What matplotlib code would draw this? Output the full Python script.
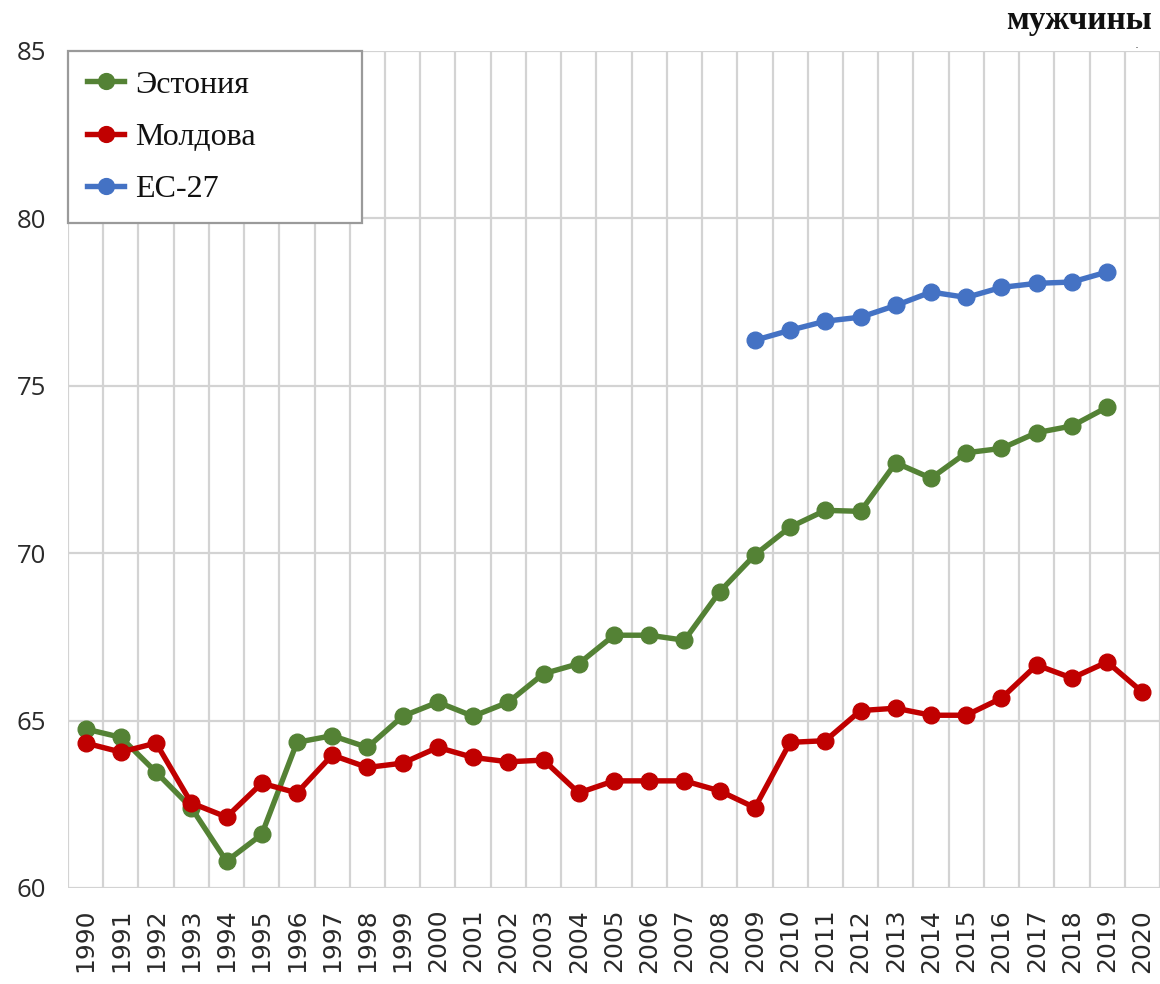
import matplotlib
matplotlib.use("Agg")
import matplotlib.pyplot as plt
import numpy as np

years = [str(y) for y in range(1990, 2021)]

estonia = [64.75, 64.5, 63.46, 62.4, 60.8, 61.6, 64.35, 64.55, 64.2, 65.13,
           65.55, 65.13, 65.55, 66.4, 66.7, 67.55, 67.55, 67.4, 68.85, 69.95,
           70.78, 71.28, 71.25, 72.7, 72.24, 73.0, 73.13, 73.6, 73.8, 74.36]
moldova = [64.33, 64.06, 64.33, 62.54, 62.12, 63.13, 62.84, 63.97, 63.6, 63.73,
           64.2, 63.9, 63.77, 63.82, 62.84, 63.2, 63.2, 63.2, 62.9, 62.4,
           64.35, 64.4, 65.3, 65.37, 65.16, 65.16, 65.67, 66.66, 66.27, 66.75,
           65.85]
eu27_start = 2009
eu27 = [76.36, 76.66, 76.93, 77.05, 77.4, 77.8, 77.64, 77.94, 78.06, 78.1, 78.4]

labels = ["Эстония", "Молдова", "ЕС-27"]
colors = ["#548235", "#c00000", "#4472c4"]
title = "мужчины"
yticks = [60, 65, 70, 75, 80, 85]

fig = plt.figure(figsize=(11.6, 9.84), dpi=100)
ax = fig.add_axes([68/1160, 1-888/984, 1-68/1160, (888-51)/984])

x_all = np.arange(len(years))
x_est = x_all[:len(estonia)]
i0 = years.index(str(eu27_start))
x_eu = x_all[i0:i0 + len(eu27)]

lw = 3.9
ms = 12
ax.plot(x_est, estonia, color=colors[0], lw=lw, marker="o", ms=ms, label=labels[0], zorder=3)
ax.plot(x_all, moldova, color=colors[1], lw=lw, marker="o", ms=ms, label=labels[1], zorder=3)
ax.plot(x_eu, eu27, color=colors[2], lw=lw, marker="o", ms=ms, label=labels[2], zorder=3)

ax.set_xlim(-0.5, 30.34)
ax.set_ylim(60, 85)
ax.set_yticks(yticks)
ax.set_xticks(x_all)
ax.set_xticklabels(years, rotation=90, fontsize=18, color="#2a2a2a", family="DejaVu Sans")
ax.set_xticks(np.arange(-0.5, 31, 1), minor=True)
for lab in ax.get_yticklabels():
    lab.set_fontsize(18.5)
    lab.set_color("#2a2a2a")
    lab.set_family("Open Sans")
ax.tick_params(axis="both", which="both", length=0)
ax.tick_params(axis="y", pad=16)
ax.tick_params(axis="x", pad=15)
ax.grid(True, axis="y", which="major", color="#d3d3d3", lw=1.6)
ax.grid(True, axis="x", which="minor", color="#d3d3d3", lw=1.6)
ax.grid(False, axis="x", which="major")
for s in ax.spines.values():
    s.set_visible(False)
ax.set_axisbelow(True)

leg = ax.legend(loc="upper left", bbox_to_anchor=(0, 0.8, 0.269, 0.2), mode="expand",
                borderaxespad=0, frameon=True, fancybox=False,
                prop={"family": "Liberation Serif", "size": 23},
                handlelength=1.15, handletextpad=0.35, labelspacing=0.72,
                borderpad=0.6, markerscale=0.95)
leg.get_frame().set_edgecolor("#9a9a9a")
leg.get_frame().set_linewidth(1.6)
leg.get_frame().set_alpha(1)
for t in leg.get_texts():
    t.set_color("#111111")

fig.text(1152/1160, 1-29/984, title, ha="right", va="baseline",
         family="Liberation Serif", fontweight="bold", fontsize=24, color="#111111")
fig.text(1137/1160, 1-48/984, ".", ha="center", va="baseline", fontsize=9, color="#555555")

fig.savefig("out.png", dpi=100)
